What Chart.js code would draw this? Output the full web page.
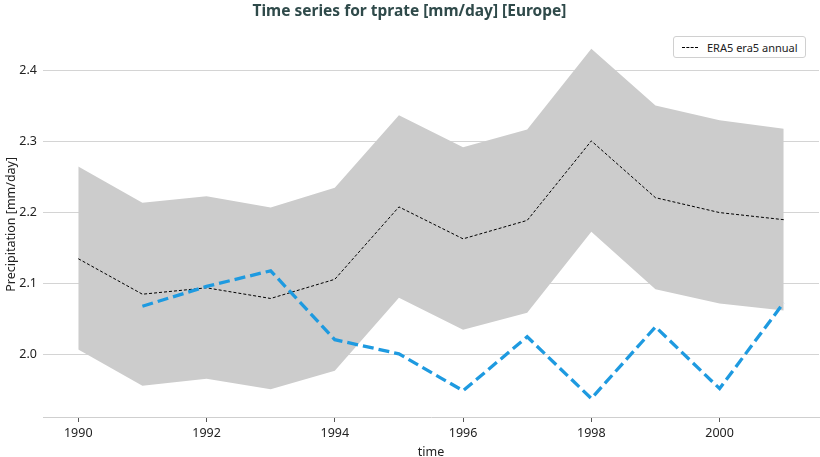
<!DOCTYPE html>
<html>
<head>
<meta charset="utf-8">
<script src="https://cdn.jsdelivr.net/npm/chart.js@4.4.1/dist/chart.umd.min.js"></script>
<style>
  html, body { margin: 0; padding: 0; background: #fff; }
  #wrap { position: relative; width: 820px; height: 457px; }
  #legend {
    position: absolute; left: 673px; top: 36px; height: 20px; padding: 0 7px 0 8px;
    border: 1px solid #d0d0d0; border-radius: 3px; background: #fff;
    font: 11px "Noto Sans", sans-serif; color: #222; display: flex; align-items: center;
  }
  #legend .dash { width: 16px; border-top: 1px dashed #000; margin-right: 9px; }
</style>
</head>
<body>
<div id="wrap">
  <canvas id="chart" width="820" height="457"></canvas>
  <div id="legend"><span class="dash"></span>ERA5 era5 annual</div>
</div>
<script>
const years = [1990, 1991, 1992, 1993, 1994, 1995, 1996, 1997, 1998, 1999, 2000, 2001];
const era5Mean = [2.135, 2.085, 2.094, 2.079, 2.106, 2.208, 2.163, 2.189, 2.301, 2.221, 2.200, 2.190];
const era5Upper = [2.265, 2.214, 2.223, 2.207, 2.235, 2.337, 2.292, 2.317, 2.431, 2.351, 2.330, 2.318];
const era5Lower = [2.007, 1.956, 1.966, 1.951, 1.977, 2.080, 2.035, 2.059, 2.173, 2.092, 2.072, 2.062];
const modelYears = [1991, 1992, 1993, 1994, 1995, 1996, 1997, 1998, 1999, 2000, 2001];
const modelValues = [2.068, 2.096, 2.118, 2.021, 2.001, 1.949, 2.025, 1.938, 2.039, 1.952, 2.073];
const xTicks = [1990, 1992, 1994, 1996, 1998, 2000];
const yTicks = [2.0, 2.1, 2.2, 2.3, 2.4];

const pts = (xs, ys) => xs.map((x, i) => ({ x: x, y: ys[i] }));

const font = '"Noto Sans", sans-serif';

new Chart(document.getElementById('chart').getContext('2d'), {
    type: 'line',
    data: {
        datasets: [
            {
                label: 'upper',
                data: pts(years, era5Upper),
                borderWidth: 0,
                pointRadius: 0,
                backgroundColor: '#cccccc',
                fill: '+1',
                order: 3
            },
            {
                label: 'lower',
                data: pts(years, era5Lower),
                borderWidth: 0,
                pointRadius: 0,
                fill: false,
                order: 3
            },
            {
                label: 'ERA5 era5 annual',
                data: pts(years, era5Mean),
                borderColor: '#000000',
                borderWidth: 1,
                borderDash: [3, 2],
                pointRadius: 0,
                fill: false,
                order: 2
            },
            {
                label: 'model',
                data: pts(modelYears, modelValues),
                borderColor: '#1e9ae0',
                borderWidth: 3.3,
                borderDash: [11, 5],
                pointRadius: 0,
                fill: false,
                order: 1
            }
        ]
    },
    options: {
        responsive: false,
        animation: false,
        layout: { padding: { left: 0, right: 1, top: 0, bottom: 0 } },
        plugins: {
            legend: { display: false },
            tooltip: { enabled: false },
            title: {
                display: true,
                text: 'Time series for tprate [mm/day] [Europe]',
                color: '#2f4a4a',
                font: { family: font, size: 15.5, weight: 'bold' },
                padding: { top: 2, bottom: 11 }
            }
        },
        scales: {
            x: {
                type: 'linear',
                min: 1989.45,
                max: 2001.55,
                afterBuildTicks: s => { s.ticks = xTicks.map(v => ({ value: v })); },
                afterFit: s => { s.height = 40; },
                ticks: {
                    color: '#222',
                    font: { family: font, size: 12.5 },
                    padding: 4,
                    callback: v => String(v)
                },
                grid: { drawOnChartArea: false, drawTicks: true, tickLength: 5, color: '#555', lineWidth: 1 },
                border: { display: true, color: '#cfcfcf', width: 1 },
                title: {
                    display: true,
                    text: 'time',
                    color: '#222',
                    font: { family: font, size: 12.5 },
                    padding: { top: 0, bottom: -3 }
                }
            },
            y: {
                min: 1.912,
                max: 2.455,
                z: 1,
                afterBuildTicks: s => { s.ticks = yTicks.map(v => ({ value: v })); },
                afterFit: s => { s.width = 43; },
                ticks: {
                    color: '#222',
                    font: { family: font, size: 12.5 },
                    padding: 6,
                    callback: v => v.toFixed(1)
                },
                grid: { drawTicks: false, color: 'rgba(0,0,0,0.17)', lineWidth: 1 },
                border: { display: false },
                title: {
                    display: true,
                    text: 'Precipitation [mm/day]',
                    color: '#222',
                    font: { family: font, size: 12.5 },
                    padding: { top: 4, bottom: 0 }
                }
            }
        }
    }
});
</script>
</body>
</html>
